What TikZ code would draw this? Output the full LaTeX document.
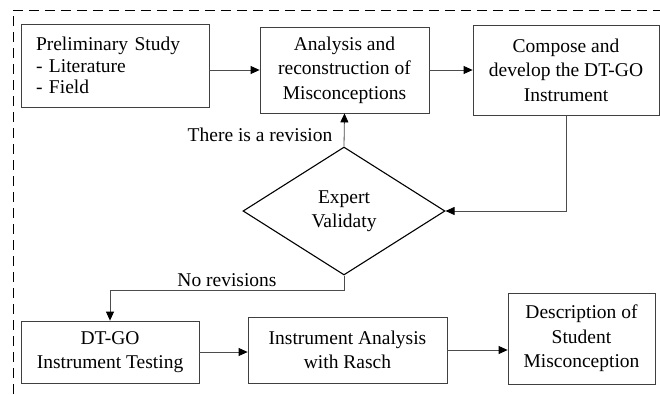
\documentclass[tikz,border=0pt]{standalone}
\usepackage{fontspec}
\setmainfont{Liberation Serif}
\newfontfamily\flowfont{Liberation Serif}
\usetikzlibrary{arrows.meta,shapes.geometric}

\begin{document}
\begin{tikzpicture}[x=1pt, y=-1pt,
    every node/.style={font=\flowfont\fontsize{19.5}{24.5}\selectfont},
    stage/.style={draw=black!75, line width=0.8pt, align=center, inner sep=0pt},
    decide/.style={diamond, draw=black, line width=1.1pt, align=center, inner sep=0pt,
      minimum width=202pt, minimum height=128pt},
    flow/.style={draw=black!70, line width=0.8pt, -{Triangle[length=9pt,width=8pt,color=black]}}]
  \useasboundingbox (0,0) rectangle (660,394);
  % dashed frame
  \draw[dash pattern=on 10pt off 6pt, line width=1pt] (13,394) -- (13,10) -- (660,10);

  % top row
  \node[stage, align=left, text width=158pt, inner xsep=15pt, minimum height=83pt,
    font=\flowfont\fontsize{19.5}{21.7}\selectfont] (prelim) at (115,65.5)
    {Preliminary Study\\- Literature\\- Field};
  \node[stage, minimum width=169pt, minimum height=86pt] (anal) at (344.5,70)
    {Analysis and\\reconstruction of\\Misconceptions};
  \node[stage, minimum width=186pt, minimum height=90pt] (comp) at (566,70)
    {Compose and\\develop the DT-GO\\Instrument};

  % decision
  \node[decide] (valid) at (344,211) {Expert\\Validaty};
  \node (revtext) at (260,135) {There is a revision};

  % bottom row
  \node[stage, minimum width=178pt, minimum height=62pt] (test) at (110,352)
    {DT-GO\\Instrument Testing};
  \node[stage, minimum width=199pt, minimum height=66pt] (rasch) at (347.5,350)
    {Instrument Analysis\\with Rasch};
  \node[stage, minimum width=147pt, minimum height=91pt] (desc) at (581.5,338.5)
    {Description of\\Student\\Misconception};

  % connectors
  \draw[flow] (anal.west -| prelim.east) -- (anal.west);
  \draw[flow] (anal.east) -- (comp.west);
  \draw[flow] (comp.south) |- (valid.east);
  \draw[flow] (valid.north) -- (anal.south);
  \draw[flow] (valid.south) -- ++(0,15) -| node[pos=0.25, above, inner sep=3pt] {No revisions} (test.north);
  \draw[flow] (test.east) -- (test.east -| rasch.west);
  \draw[flow] (rasch.east) -- (rasch.east -| desc.west);
\end{tikzpicture}
\end{document}
